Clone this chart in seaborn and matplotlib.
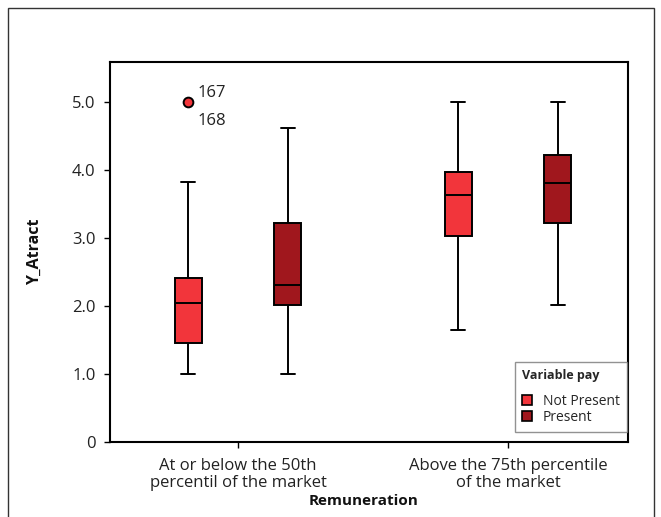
import numpy as np
import pandas as pd
import matplotlib
matplotlib.use("Agg")
import matplotlib.pyplot as plt
import seaborn as sns
from matplotlib.patches import Rectangle, Patch

# ---- data ----
categories = ["At or below the 50th\npercentil of the market",
              "Above the 75th percentile\nof the market"]
hues = ["Not Present", "Present"]
# per (category, hue): lower whisker, Q1, median, Q3, upper whisker
low_whisk = {(0, 0): 1.00, (0, 1): 1.00, (1, 0): 1.65, (1, 1): 2.02}
q1_vals   = {(0, 0): 1.46, (0, 1): 2.01, (1, 0): 3.03, (1, 1): 3.22}
med_vals  = {(0, 0): 2.05, (0, 1): 2.31, (1, 0): 3.63, (1, 1): 3.81}
q3_vals   = {(0, 0): 2.41, (0, 1): 3.22, (1, 0): 3.97, (1, 1): 4.22}
up_whisk  = {(0, 0): 3.82, (0, 1): 4.62, (1, 0): 5.00, (1, 1): 5.00}
outliers  = {(0, 0): [5.0]}
outlier_labels = ["167", "168"]
yticks = [0, 1, 2, 3, 4, 5]
ytick_labels = ["0", "1.0", "2.0", "3.0", "4.0", "5.0"]
colors = ["#F2353B", "#A0171D"]

# build a small table whose quartiles reproduce the read values
rows = []
for (c, h) in q1_vals:
    vals = [low_whisk[(c, h)], q1_vals[(c, h)], q1_vals[(c, h)],
            med_vals[(c, h)], med_vals[(c, h)], med_vals[(c, h)],
            q3_vals[(c, h)], q3_vals[(c, h)], up_whisk[(c, h)]]
    if (c, h) in outliers:
        vals = [low_whisk[(c, h)], q1_vals[(c, h)], q1_vals[(c, h)],
                med_vals[(c, h)], med_vals[(c, h)], med_vals[(c, h)],
                q3_vals[(c, h)], up_whisk[(c, h)]] + outliers[(c, h)]
    for v in vals:
        rows.append({"Remuneration": categories[c], "Variable pay": hues[h], "Y_Atract": v})
df = pd.DataFrame(rows)

sns.set_theme(style="white")
plt.rcParams["font.family"] = ["Open Sans", "DejaVu Sans"]

fig = plt.figure(figsize=(6.61, 5.17), dpi=100)
ax = fig.add_axes([110 / 661, 1 - 442 / 517, 518 / 661, 380 / 517])

sns.boxplot(data=df, x="Remuneration", y="Y_Atract", hue="Variable pay",
            order=categories, hue_order=hues, palette=colors, saturation=1,
            width=0.74, gap=0.73, whis=2.0, linecolor="black", linewidth=1.4,
            flierprops=dict(marker="o", markerfacecolor=colors[0],
                            markeredgecolor="black", markersize=7, markeredgewidth=1.4),
            ax=ax)

ax.set_xlim(-128 / 270, 390 / 270)
ax.set_ylim(0, 5.59)
ax.set_yticks(yticks)
ax.set_yticklabels(ytick_labels)

for sp in ax.spines.values():
    sp.set_visible(True)
    sp.set_color("black")
    sp.set_linewidth(1.5)

ax.tick_params(axis="both", which="both", direction="out", length=4.5, width=1.0,
               color="black", labelsize=12, labelcolor="#222222")
ax.tick_params(axis="x", pad=7)
ax.tick_params(axis="y", pad=6, left=True)
ax.tick_params(axis="x", bottom=True)
for t in ax.get_xticklabels():
    t.set_linespacing(1.05)

ax.set_ylabel("Y_Atract", fontsize=11.5, fontweight="bold", color="#111111")
ax.set_xlabel("Remuneration", fontsize=11, fontweight="bold", color="#111111")
ax.yaxis.set_label_coords(-0.13, 0.5)
ax.xaxis.set_label_coords(0.49, -0.136)

# outlier labels
for ln in ax.lines:
    xd, yd = ln.get_xdata(), ln.get_ydata()
    if ln.get_marker() == "o" and len(yd) > 0:
        x0, y0 = float(np.asarray(xd)[0]), float(np.asarray(yd)[0])
        ax.annotate(outlier_labels[0], xy=(x0, y0), xytext=(9, 9), textcoords="offset pixels",
                    ha="left", va="center", fontsize=12, color="#222222")
        ax.annotate(outlier_labels[1], xy=(x0, y0), xytext=(9, -19), textcoords="offset pixels",
                    ha="left", va="center", fontsize=12, color="#222222")

# legend
handles = [Patch(facecolor=colors[i], edgecolor="black", linewidth=1.2) for i in range(2)]
leg = ax.legend(handles, hues, title="Variable pay", loc="lower right",
                bbox_to_anchor=(0.998, 0.026), borderaxespad=0, fontsize=10,
                title_fontproperties={"weight": "bold", "size": 9},
                handlelength=0.7, handleheight=0.7, handletextpad=0.8,
                labelspacing=0.1, borderpad=0.5, frameon=True, fancybox=False,
                alignment="left")
leg._legend_box.sep = 8.5
leg.get_frame().set_edgecolor("#777777")
leg.get_frame().set_linewidth(1.0)

# outer frame around the figure
fig.patches.append(Rectangle((8 / 661, -0.05), 646 / 661, 1 - 8 / 517 + 0.05,
                             transform=fig.transFigure, fill=False,
                             edgecolor="#333333", linewidth=1.0))

fig.savefig("out.png", dpi=100)
